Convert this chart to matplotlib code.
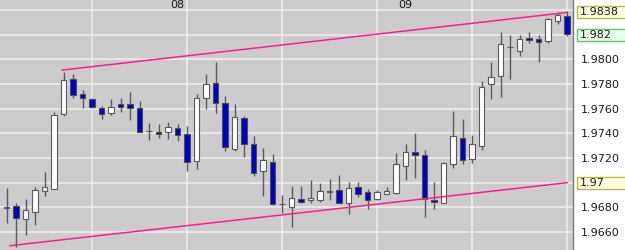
import matplotlib
matplotlib.use('Agg')
import matplotlib.pyplot as plt
from matplotlib.patches import Rectangle
import numpy as np

# ── Hourly OHLC ──────────────────────────────────────────────────────────────
opens = [1.96797, 1.96810, 1.96703, 1.96764, 1.96930, 1.96948, 1.97554, 1.97840, 1.97721, 1.97678,
         1.97605, 1.97567, 1.97638, 1.97638, 1.97603, 1.97419, 1.97413, 1.97408, 1.97441, 1.97397,
         1.97178, 1.97684, 1.97806, 1.97643, 1.97273, 1.97522, 1.97311, 1.97094, 1.97165, 1.96824,
         1.96805, 1.96867, 1.96857, 1.96857, 1.96926, 1.96940, 1.96832, 1.96965, 1.96922, 1.96865,
         1.96905, 1.96918, 1.97135, 1.97246, 1.97222, 1.96862, 1.96835, 1.97149, 1.97360, 1.97189,
         1.97297, 1.97797, 1.97865, 1.98098, 1.98070, 1.98171, 1.98162, 1.98151, 1.98313, 1.98351]
highs = [1.96954, 1.96832, 1.96867, 1.96962, 1.97089, 1.97575, 1.97900, 1.97881, 1.97751, 1.97689,
         1.97621, 1.97676, 1.97684, 1.97735, 1.97664, 1.97481, 1.97475, 1.97494, 1.97475, 1.97459,
         1.97719, 1.97879, 1.97976, 1.97705, 1.97638, 1.97543, 1.97378, 1.97283, 1.97230, 1.96900,
         1.96973, 1.96973, 1.97021, 1.96999, 1.97027, 1.97062, 1.97008, 1.97008, 1.96948, 1.96940,
         1.96962, 1.97243, 1.97313, 1.97400, 1.97265, 1.97008, 1.97167, 1.97581, 1.97516, 1.97386,
         1.97827, 1.97981, 1.98219, 1.98197, 1.98197, 1.98219, 1.98197, 1.98333, 1.98381, 1.98392]
lows = [1.96673, 1.96480, 1.96575, 1.96656, 1.96894, 1.96948, 1.97540, 1.97684, 1.97608, 1.97608,
        1.97516, 1.97548, 1.97575, 1.97508, 1.97411, 1.97346, 1.97359, 1.97354, 1.97340, 1.97094,
        1.97108, 1.97600, 1.97567, 1.97259, 1.97259, 1.97205, 1.97054, 1.96894, 1.96816, 1.96756,
        1.96643, 1.96832, 1.96837, 1.96845, 1.96859, 1.96832, 1.96743, 1.96886, 1.96786, 1.96859,
        1.96905, 1.96905, 1.97021, 1.97035, 1.96724, 1.96786, 1.96835, 1.97121, 1.97154, 1.97157,
        1.97265, 1.97678, 1.97697, 1.97838, 1.98029, 1.98130, 1.97976, 1.98130, 1.98284, 1.98189]
closes = [1.96797, 1.96711, 1.96776, 1.96938, 1.96965, 1.97548, 1.97832, 1.97711, 1.97689, 1.97616,
          1.97557, 1.97611, 1.97616, 1.97608, 1.97411, 1.97419, 1.97394, 1.97449, 1.97386, 1.97165,
          1.97684, 1.97800, 1.97648, 1.97291, 1.97535, 1.97313, 1.97076, 1.97184, 1.96824, 1.96824,
          1.96873, 1.96840, 1.96875, 1.96930, 1.96926, 1.96837, 1.96959, 1.96905, 1.96857, 1.96922,
          1.96930, 1.97151, 1.97251, 1.97222, 1.96865, 1.96843, 1.97159, 1.97381, 1.97181, 1.97311,
          1.97778, 1.97859, 1.98122, 1.98098, 1.98162, 1.98154, 1.98138, 1.98325, 1.98359, 1.98203]

# trend lines: (bar index, price) end points
upper_x = [5.85, 59]
upper_y = [1.97913, 1.9838]
lower_x = [0.35, 59]
lower_y = [1.96489, 1.9700]

day_pos = [18, 42]
day_labels = ['08', '09']

tick_vals = [1.9660, 1.9680, 1.9720, 1.9740, 1.9760, 1.9780, 1.9800]
grid_vals = np.arange(1.9660, 1.98401, 0.002)
box_vals = [1.9838, 1.982, 1.97]
box_text = ['1.9838', '1.982', '1.97']
box_fc = ['#FFFFE0', '#EEFFEE', '#FFFFE0']
box_ec = ['#B8B84C', '#5CC85C', '#B8B84C']

# ── Colours ──────────────────────────────────────────────────────────────────
BG = '#CCCCCC'; GRID = '#EEEEEE'; BEAR = '#0000C8'; EDGE = '#5A5A5A'
TREND = '#FF1E8C'; TXT = '#1A1A1A'

W, H = 625, 250
fig = plt.figure(figsize=(W / 100, H / 100), dpi=100)
ax = fig.add_axes([0, 0, 573 / W, 1])
ax.set_facecolor(BG)

n = len(opens)
idx = np.arange(n)
o = np.array(opens); h = np.array(highs); l = np.array(lows); c = np.array(closes)

for g in grid_vals:
    ax.axhline(g, color=GRID, lw=1.1, zorder=1)
for v in range(9, n, 10):
    ax.axvline(v, color=GRID, lw=1.1, zorder=1)

# wicks
ax.vlines(idx, l, h, color=EDGE, lw=1.0, zorder=3)

# bodies
bull = c >= o
bot = np.minimum(o, c)
height = np.maximum(np.abs(c - o), 0.000025)
ax.bar(idx[bull], height[bull], bottom=bot[bull], width=0.58,
       color='white', edgecolor=EDGE, linewidth=0.8, zorder=4)
ax.bar(idx[~bull], height[~bull], bottom=bot[~bull], width=0.58,
       color=BEAR, edgecolor='#505040', linewidth=0.8, zorder=4)

# trend lines
ax.plot(upper_x, upper_y, color=TREND, lw=1.1, zorder=5)
ax.plot(lower_x, lower_y, color=TREND, lw=1.1, zorder=5)

for p, s in zip(day_pos, day_labels):
    ax.text(p, 1.9848, s, ha='center', va='top', fontsize=8, color=TXT, zorder=6)

ax.set_xlim(-0.705, 59.61)
ax.set_ylim(1.96454, 1.98481)
ax.set_xticks([])
ax.yaxis.tick_right()
ax.set_yticks(tick_vals)
ax.set_yticklabels([f'{v:.4f}' for v in tick_vals], fontsize=8, color=TXT)
ax.tick_params(axis='y', length=0, pad=5.5)
for sp in ['top', 'left', 'bottom']:
    ax.spines[sp].set_visible(False)
ax.spines['right'].set_color('#777777')
ax.spines['right'].set_linewidth(1.0)

# price boxes on the right scale (extend to the figure edge)
trans = ax.get_yaxis_transform()
fig.canvas.draw()
for v, s, fc, ec in zip(box_vals, box_text, box_fc, box_ec):
    yfig = fig.transFigure.inverted().transform(ax.transData.transform((0, v)))[1]
    hh = 12 / H
    fig.patches.append(Rectangle((577 / W, yfig - hh / 2), 60 / W, hh,
                                 transform=fig.transFigure, fc=fc, ec=ec, lw=1.0,
                                 zorder=5))
    fig.text(580 / W, yfig, s, ha='left', va='center', fontsize=8, color=TXT,
             zorder=6)

fig.savefig('out.png', dpi=100, facecolor='white')
